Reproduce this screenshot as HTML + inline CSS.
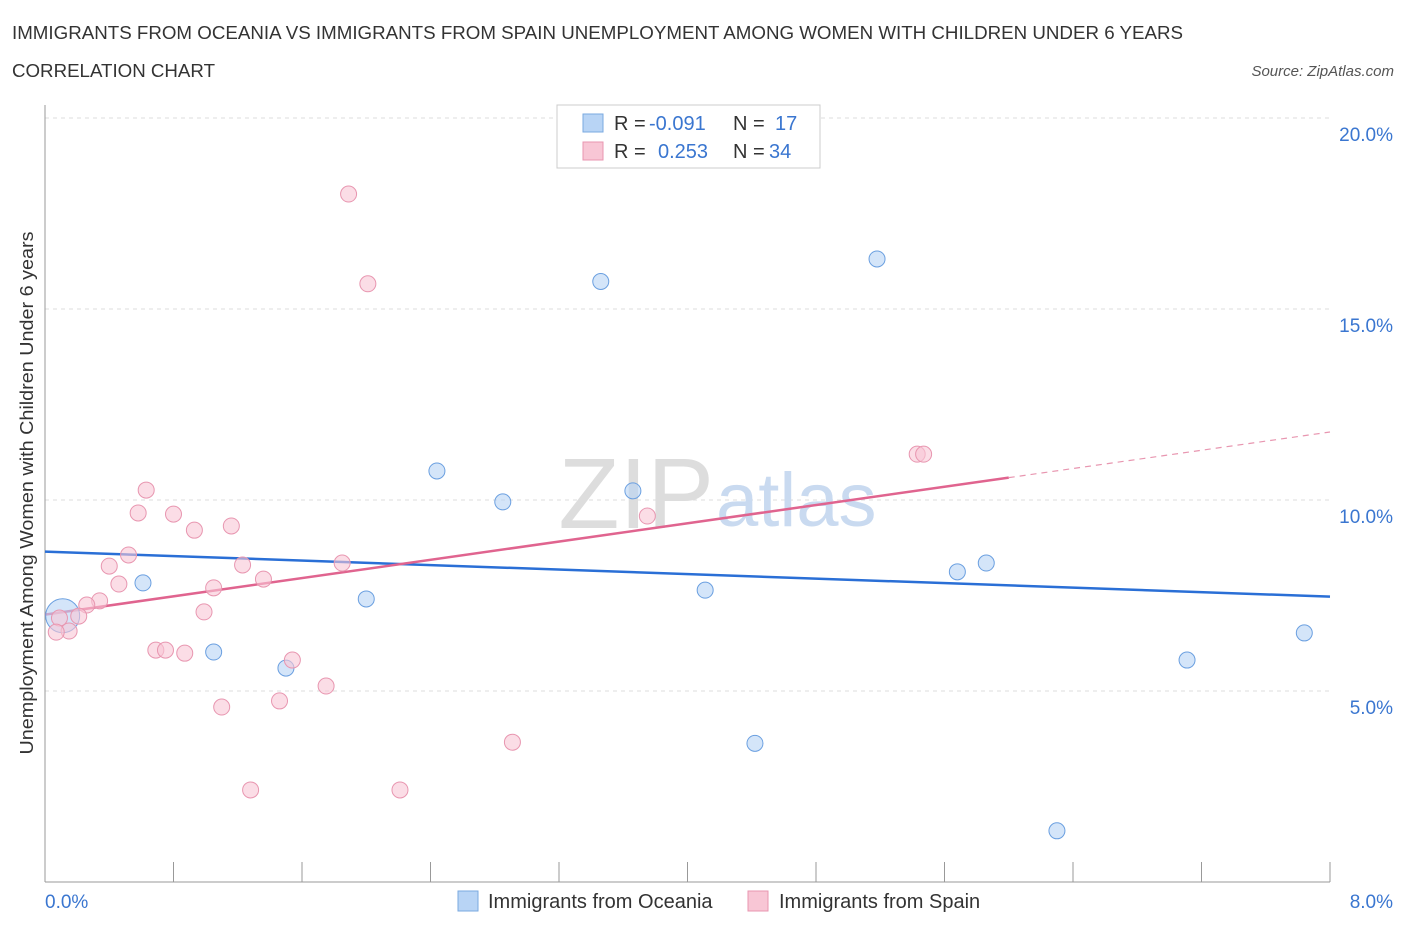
<!DOCTYPE html>
<html><head><meta charset="utf-8">
<style>
body{margin:0;background:#fff;font-family:"Liberation Sans",sans-serif;}
svg text{font-family:"Liberation Sans",sans-serif;}
</style></head>
<body>
<svg id="chart" width="1406" height="930">
<text x="12" y="39" font-size="18" fill="#333" textLength="1171" lengthAdjust="spacingAndGlyphs">IMMIGRANTS FROM OCEANIA VS IMMIGRANTS FROM SPAIN UNEMPLOYMENT AMONG WOMEN WITH CHILDREN UNDER 6 YEARS</text>
<text x="12" y="77" font-size="18" fill="#333" textLength="203" lengthAdjust="spacingAndGlyphs">CORRELATION CHART</text>
<text x="1394" y="76" font-size="15" fill="#555" font-style="italic" text-anchor="end">Source: ZipAtlas.com</text>
<text x="33" y="493" font-size="18" fill="#333" text-anchor="middle" textLength="523" lengthAdjust="spacingAndGlyphs" transform="rotate(-90 33 493)">Unemployment Among Women with Children Under 6 years</text>
<g id="grid"></g>
<text x="714" y="528" font-size="100" fill="#ddd" text-anchor="end" font-family="Liberation Serif">ZIP</text>
<text x="716" y="526" font-size="76" fill="#c9daf0">atlas</text>
<g id="lines"></g>
<g id="points"></g>
<g>
<rect x="557" y="105" width="263" height="63" fill="#fff" stroke="#ccc"/>
<rect x="583" y="114" width="20" height="18" fill="#b8d4f5" stroke="#7aaae0"/>
<text x="614" y="130" font-size="20" fill="#333">R = </text><text x="649" y="130" font-size="20" fill="#3a76d0">-0.091</text>
<text x="733" y="130" font-size="20" fill="#333">N = </text><text x="775" y="130" font-size="20" fill="#3a76d0">17</text>
<rect x="583" y="142" width="20" height="18" fill="#f8c6d5" stroke="#e896b0"/>
<text x="614" y="158" font-size="20" fill="#333">R = </text><text x="658" y="158" font-size="20" fill="#3a76d0">0.253</text>
<text x="733" y="158" font-size="20" fill="#333">N = </text><text x="769" y="158" font-size="20" fill="#3a76d0">34</text>
</g>
<g>
<rect x="458" y="891" width="20" height="20" fill="#b8d4f5" stroke="#7aaae0"/>
<text x="488" y="908" font-size="20" fill="#333">Immigrants from Oceania</text>
<rect x="748" y="891" width="20" height="20" fill="#f8c6d5" stroke="#e896b0"/>
<text x="779" y="908" font-size="20" fill="#333">Immigrants from Spain</text>
</g>
<text x="45" y="908" font-size="19" fill="#3a76d0">0.0%</text>
<text x="1393" y="908" font-size="19" fill="#3a76d0" text-anchor="end">8.0%</text>
</svg>
<script>
const yTicks=[5,10,15,20];
const yTickLabels=["5.0%","10.0%","15.0%","20.0%"];
const oceaniaX=[0.11,0.61,1.05,1.50,2.00,2.44,2.85,3.46,3.66,4.11,4.42,5.18,5.68,5.86,6.30,7.11,7.84];
const oceaniaY=[6.97,7.83,6.02,5.60,7.41,10.76,9.95,15.72,10.24,7.64,3.63,16.31,8.12,8.35,1.34,5.81,6.52];
const spainX=[1.89,2.01,0.63,0.58,0.80,0.93,1.16,0.52,0.40,1.23,1.85,0.46,1.05,1.36,0.34,0.26,0.99,0.21,0.09,0.15,0.07,0.69,0.75,0.87,1.54,1.75,1.46,1.10,1.28,2.21,2.91,3.75,5.43,5.47];
const spainY=[18.01,15.66,10.26,9.66,9.63,9.21,9.32,8.56,8.27,8.30,8.35,7.80,7.70,7.93,7.36,7.25,7.07,6.96,6.91,6.57,6.54,6.07,6.07,5.99,5.81,5.13,4.74,4.58,2.41,2.41,3.66,9.58,11.20,11.20];
const trendOceania=[8.65,7.47];
const trendSpain=[7.0,11.78];
const NS="http://www.w3.org/2000/svg";
const x=v=>45+v/8*1285, y=v=>882-v/5*191;
function mk(t,a,p){const e=document.createElementNS(NS,t);for(const k in a)e.setAttribute(k,a[k]);p.appendChild(e);return e;}
const grid=document.getElementById('grid');
yTicks.forEach((t,i)=>{
 const l=mk('line',{x1:45,x2:1330,y1:y(t),y2:y(t),stroke:'#ddd','stroke-dasharray':'4,4'},grid);
 
 
 const tx=mk('text',{x:1393,y:y(t)+23,'font-size':19,fill:'#3a76d0','text-anchor':'end'},grid);
 tx.textContent=yTickLabels[i];
 
 
});
const ax=mk('line',{x1:45,x2:1330,y1:882,y2:882,stroke:'#999'},grid);


const ay=mk('line',{x1:45,x2:45,y1:105,y2:882,stroke:'#999'},grid);


for(let i=1;i<=10;i++){const tk=mk('line',{x1:45+i*128.5,x2:45+i*128.5,y1:862,y2:882,stroke:'#999'},grid);
 
 }
const pts=document.getElementById('points');
oceaniaX.forEach((v,i)=>{const c=mk('circle',{cx:x(v),cy:y(oceaniaY[i]),r:i==0?17:8,fill:'#b8d4f5','fill-opacity':0.6,stroke:'#6a9fe0'},pts);
 
 });
spainX.forEach((v,i)=>{const c=mk('circle',{cx:x(v),cy:y(spainY[i]),r:8,fill:'#f8c6d5','fill-opacity':0.6,stroke:'#e896b0'},pts);
 
 });
const ln=document.getElementById('lines');
const l1=mk('line',{x1:x(0),y1:y(trendOceania[0]),x2:x(8),y2:y(trendOceania[1]),stroke:'#2a6fd6','stroke-width':2.5},ln);


const sy=v=>trendSpain[0]+(trendSpain[1]-trendSpain[0])*v/8;
const l2=mk('line',{x1:x(0),y1:y(sy(0)),x2:x(6),y2:y(sy(6)),stroke:'#e0648f','stroke-width':2.5},ln);


const l3=mk('line',{x1:x(6),y1:y(sy(6)),x2:x(8),y2:y(sy(8)),stroke:'#e896b0','stroke-width':1.2,'stroke-dasharray':'6,5'},ln);


</script>
</body></html>
